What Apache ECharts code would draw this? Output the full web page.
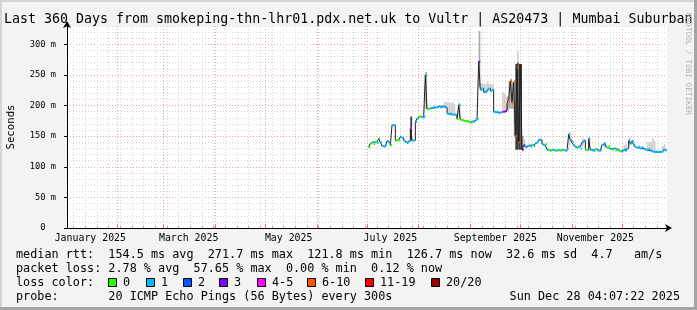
<!DOCTYPE html>
<html><head><meta charset="utf-8">
<script src="https://cdn.jsdelivr.net/npm/echarts@6/dist/echarts.min.js"></script>
<style>html,body{margin:0;padding:0;background:#f3f3f3}#c{width:697px;height:310px}</style>
</head><body><div id="c"></div>
<script>
// ---------------- DATA ----------------
const titleText = 'Last 360 Days from smokeping-thn-lhr01.pdx.net.uk to Vultr | AS20473 | Mumbai Suburban';
const startDateUTC = [2025, 0, 2];   // first day of the 360-day window
const totalDays = 360;
const firstDay = 181;                // day index of first median value

// median rtt (ms), one value per day from firstDay
const median = [
  132,138,140,137,141,139,146,140,134,133,
  136,142,140,135,168,168,143,144,143,149,
  147,143,140,139,142,163,143,143,173,179,
  182,182,181,182,250,194,195,196,196,198,
  197,198,199,197,198,199,197,187,186,187,
  185,186,185,178,201,177,176,175,175,174,
  173,172,174,174,177,179,271.7,226,228,222,
  222,226,228,224,226,190,189,190,188,189,
  190,190,191,203,210,240,205,238,150,262,
  140,266,128,135,132,134,135,133,136,134,
  139,140,144,144,137,135,137,128,127,126,
  128,127,126,128,127,126,128,127,126,129,
  153,144,140,135,132,131,133,130,140,143,
  128,127,146,128,127,126,129,127,126,128,
  136,138,133,131,134,129,128,130,127,128,
  126,125,127,128,126,130,143,138,142,136,
  132,131,133,130,132,129,128,127,129,126,
  125,124,125,124,125,124,125,128,127
];
// loss class index per day (0:'0',1:'1',2:'2',3:'3',4:'4-5',5:'6-10',6:'11-19',7:'20/20')
const loss = [
  0,0,1,0,0,1,0,1,1,1,
  1,1,1,0,1,1,0,0,0,1,
  1,1,1,1,1,4,1,1,1,1,
  0,0,1,1,1,0,0,1,1,1,
  1,1,1,1,1,1,1,1,1,1,
  1,1,1,0,1,0,0,0,0,0,
  0,0,1,1,1,1,3,1,1,1,
  1,1,1,1,1,1,1,1,1,1,
  4,3,3,5,5,5,5,5,5,5,
  5,7,3,3,1,1,1,1,0,1,
  1,1,1,1,1,1,0,1,0,0,
  1,1,0,0,1,0,1,0,1,1,
  1,1,1,1,1,0,1,1,1,1,
  0,0,1,1,1,1,0,1,1,1,
  1,1,1,0,0,1,0,1,0,1,
  0,0,1,1,1,1,1,1,1,1,
  1,1,1,1,1,1,1,1,1,1,
  1,1,1,1,1,1,1,1,1
];
const lossLabels = ['0','1','2','3','4-5','6-10','11-19','20/20'];
const lossColors = ['#26ff00','#00b8ff','#0059ff','#7e00ff','#ff00ff','#ff5500','#ff0000','#a10000'];

// visible smoke: [day, low ms, high ms, shade]
const smoke = [
  [206,143,182,2],[215,195,255,1],
  [226,198,206,0],[227,198,206,0],
  [228,188,205,0],[229,188,206,0],[230,188,204,0],[231,187,205,0],[232,188,203,0],
  [235,180,204,1],
  [247,230,322,1],
  [248,228,236,0],[249,228,237,0],[250,224,235,0],[251,224,236,0],[252,228,238,0],[253,228,236,0],[254,226,235,0],[255,226,234,0],
  [261,192,222,0],[262,192,220,0],[263,192,215,0],
  [264,192,215,1],[265,195,240,1],[266,195,244,1],[267,195,238,1],[268,150,242,1],
  [270,268,290,0],
  [269,128,268,2],[270,128,270,2],[271,128,268,2],[272,128,268,2],[273,128,150,1],
  [274,132,145,0],[301,131,157,0],[309,132,147,0],[313,128,148,0],[322,132,141,0],
  [334,126,136,0],[335,126,138,0],[337,132,148,0],
  [348,127,140,0],[349,128,141,0],[350,126,140,0],[351,126,147,0],[352,125,142,0],
  [357,126,134,0],[358,128,137,0]
];
const smokeColors = ['#d0d0d0','#a8a8a8','#3a3a3a'];

const yMax = 330;
const yTickValues = [0,50,100,150,200,250,300];
const yTickLabels = ['0  ','50 m','100 m','150 m','200 m','250 m','300 m'];
const xLabelDates = ['2025-01-16','2025-03-16','2025-05-15','2025-07-15','2025-09-16','2025-11-15'];
const xLabelTexts = ['January 2025','March 2025','May 2025','July 2025','September 2025','November 2025'];

const statRows = [
  'median rtt:  154.5 ms avg  271.7 ms max  121.8 ms min  126.7 ms now  32.6 ms sd  4.7   am/s',
  'packet loss: 2.78 % avg  57.65 % max  0.00 % min  0.12 % now',
  'loss color:',
  'probe:       20 ICMP Echo Pings (56 Bytes) every 300s'
];
const stampText = 'Sun Dec 28 04:07:22 2025';
const watermark = 'RRDTOOL / TOBI OETIKER';

// ---------------- BUILD ----------------
const dates = [];
const t0 = Date.UTC(startDateUTC[0], startDateUTC[1], startDateUTC[2]);
for (let i = 0; i <= totalDays; i++) dates.push(new Date(t0 + i * 86400000).toISOString().slice(0, 10));

const isMonthStart = (i, v) => v.slice(8) === '01';
const isMonday = (i, v) => new Date(v + 'T00:00:00Z').getUTCDay() === 1 && v.slice(8) !== '01';
const isLabel = (i, v) => xLabelDates.indexOf(v) >= 0;

const medianData = median.map((v, i) => [firstDay + i, v, loss[i]]);
const stepData = median.map((v, i) => [firstDay + i, v]).concat([[firstDay + median.length, median[median.length - 1]]]);

const MONO = '"DejaVu Sans Mono", monospace';
const gridDot = [1, 2];
const minorColor = '#d6d6d6';
const majorColor = '#f3a0a0';

const legendBoxX = [108, 146, 183, 219, 257, 307, 365, 431];
const graphic = [
  {type:'rect', shape:{x:0,y:0,width:697,height:2}, style:{fill:'#d4d4d4'}},
  {type:'rect', shape:{x:0,y:0,width:2,height:310}, style:{fill:'#d4d4d4'}},
  {type:'rect', shape:{x:0,y:307,width:697,height:3}, style:{fill:'#a4a4a4'}},
  {type:'rect', shape:{x:694,y:0,width:3,height:310}, style:{fill:'#a4a4a4'}},
  {type:'text', x:4, y:20, style:{text:titleText, font:'13.3px ' + MONO, fill:'#000', align:'left', verticalAlign:'middle'}},
  {type:'text', x:11, y:127, rotation:Math.PI/2, style:{text:'Seconds', font:'10.7px ' + MONO, fill:'#000', align:'center', verticalAlign:'middle'}},
  {type:'text', x:688, y:64, rotation:-Math.PI/2, style:{text:watermark, font:'7.7px ' + MONO, fill:'#b0b0b0', align:'center', verticalAlign:'middle'}},
  {type:'text', x:680, y:296.5, style:{text:stampText, font:'11.8px ' + MONO, fill:'#000', align:'right', verticalAlign:'middle'}}
];
statRows.forEach((t, k) => graphic.push({type:'text', x:16, y:254.5 + 14 * k, style:{text:t, font:'11.8px ' + MONO, fill:'#000', align:'left', verticalAlign:'middle'}}));
lossLabels.forEach((lab, k) => {
  graphic.push({type:'rect', shape:{x:legendBoxX[k] + 0.5, y:278.5, width:8, height:8}, style:{fill:lossColors[k], stroke:'#000', lineWidth:1}});
  graphic.push({type:'text', x:legendBoxX[k] + 15, y:282.5, style:{text:lab, font:'11.8px ' + MONO, fill:'#000', align:'left', verticalAlign:'middle'}});
});

const option = {
  backgroundColor: '#f3f3f3',
  animation: false,
  grid: {left:67, right:30, top:26, bottom:82, show:true, backgroundColor:'#ffffff', borderWidth:0, containLabel:false, outerBoundsMode:'none'},
  xAxis: [
    {type:'category', position:'bottom', data:dates, boundaryGap:false,
     axisLine:{show:false}, axisLabel:{show:false},
     axisTick:{show:true, inside:true, length:2, interval:isMonday, lineStyle:{color:'#a0a0a0'}},
     splitLine:{show:true, interval:isMonday, lineStyle:{color:minorColor, type:gridDot, width:1}}},
    {type:'category', position:'bottom', data:dates, boundaryGap:false,
     axisLine:{show:true, onZero:false, lineStyle:{color:'#000', width:1}, symbol:['none','arrow'], symbolSize:[6,7], symbolOffset:[0,5]},
     axisTick:{show:true, inside:true, length:3, interval:isMonthStart, lineStyle:{color:'#e07070'}},
     axisLabel:{show:true, interval:isLabel, formatter:(v) => xLabelTexts[xLabelDates.indexOf(v)] || '', fontFamily:MONO, fontSize:9.9, color:'#000', margin:5},
     splitLine:{show:true, interval:isMonthStart, lineStyle:{color:majorColor, type:gridDot, width:1}}},
    {type:'value', min:0, max:totalDays, show:false}
  ],
  yAxis: [
    {type:'value', position:'left', min:0, max:yMax, interval:10,
     axisLine:{show:false}, axisTick:{show:false}, axisLabel:{show:false},
     splitLine:{show:true, lineStyle:{color:minorColor, type:gridDot, width:1}}},
    {type:'value', position:'left', min:0, max:yMax, interval:50,
     axisLine:{show:true, onZero:false, lineStyle:{color:'#000', width:1}, symbol:['none','arrow'], symbolSize:[6,7], symbolOffset:[0,5]},
     axisTick:{show:true, length:3, lineStyle:{color:'#000'}},
     axisLabel:{show:true, showMaxLabel:false, formatter:(v) => { const i = yTickValues.indexOf(v); return i >= 0 ? yTickLabels[i] : ''; }, fontFamily:MONO, fontSize:8.7, color:'#000', margin:11},
     splitLine:{show:true, showMaxLine:false, lineStyle:{color:majorColor, type:gridDot, width:1}}}
  ],
  series: [
    {type:'custom', xAxisIndex:2, yAxisIndex:1, z:2, silent:true, data:smoke, encode:{x:0, y:[1,2]},
     renderItem:(params, api) => {
       const d = api.value(0), lo = api.value(1), hi = api.value(2), s = api.value(3);
       const a = api.coord([d, hi]), b = api.coord([d + 1, lo]);
       return {type:'rect', shape:{x:a[0], y:a[1], width:b[0]-a[0], height:b[1]-a[1]}, style:{fill:smokeColors[s]}};
     }},
    {type:'line', xAxisIndex:2, yAxisIndex:1, z:3, silent:true, data:stepData, step:'end', symbol:'none',
     lineStyle:{color:'#202020', width:1}},
    {type:'custom', xAxisIndex:2, yAxisIndex:1, z:4, silent:true, data:medianData, encode:{x:0, y:1},
     renderItem:(params, api) => {
       const d = api.value(0), v = api.value(1), l = api.value(2);
       const a = api.coord([d, v]), b = api.coord([d + 1, v]);
       return {type:'rect', shape:{x:a[0], y:a[1]-1, width:b[0]-a[0], height:2}, style:{fill:lossColors[l]}};
     }}
  ],
  graphic: graphic
};
const chart = echarts.init(document.getElementById('c'), null, {renderer:'canvas'});
chart.setOption(option);
</script></body></html>
